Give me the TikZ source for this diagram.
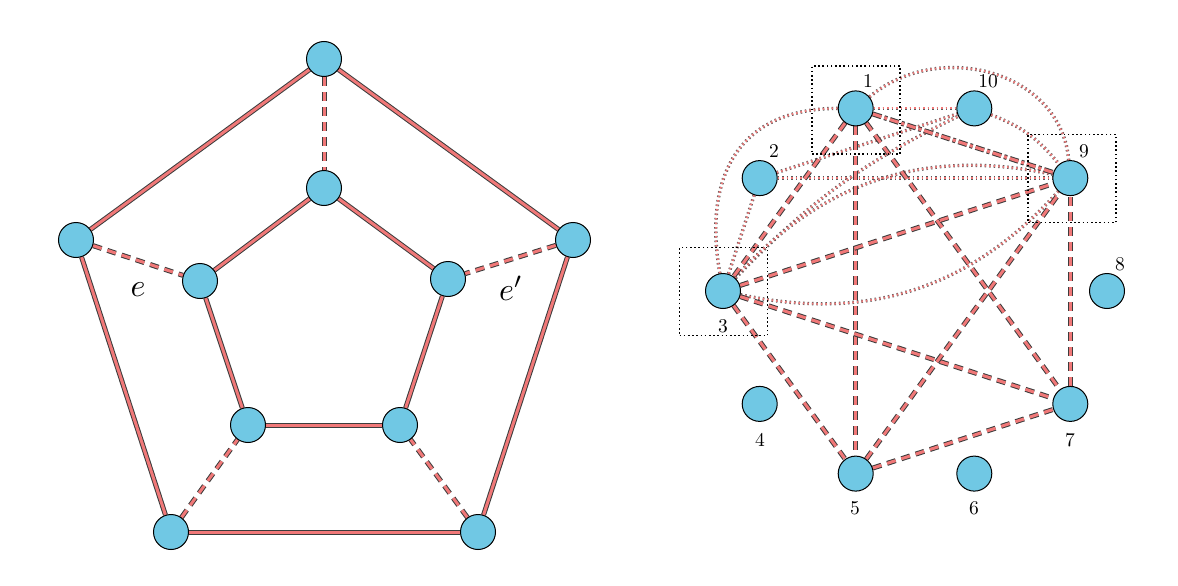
\documentclass[tikz,border=0pt]{standalone}
\usepackage{xcolor}
\definecolor{nodeblue}{RGB}{112,200,228}
\definecolor{edgered}{RGB}{240,120,120}
\definecolor{edgegray}{RGB}{60,60,60}
\pgfdeclarelayer{bg}
\pgfsetlayers{bg,main}
\begin{document}
\begin{tikzpicture}[x=1pt,y=1pt,
  vtx/.style={circle, draw=black, line width=1pt, fill=nodeblue, minimum size=35pt, inner sep=0pt},
  sol/.style={draw=edgegray, line width=1pt, double=edgered, double distance=3pt},
  dsh/.style={sol, dash pattern=on 9pt off 6pt},
  dshdot/.style={sol, dash pattern=on 9pt off 3pt on 3pt off 3pt},
  dts/.style={draw=edgegray!85, line width=0.7pt, double=edgered, double distance=2pt, dash pattern=on 1.5pt off 3pt},
  selbox/.style={draw=black, line width=1.6pt, dash pattern=on 1.6pt off 2.6pt, minimum size=88pt, inner sep=0pt},
  lbl/.style={inner sep=0pt, scale=1.95},
  elbl/.style={inner sep=0pt, scale=3.2}]
\path[use as bounding box] (0,0) rectangle (1178,-586);
% ---------------- left graph ----------------
\node[vtx] (A) at (324,-59) {};
\node[vtx] (B) at (76,-240) {};
\node[vtx] (C) at (573,-240) {};
\node[vtx] (D) at (171,-532) {};
\node[vtx] (E) at (478,-532) {};
\node[vtx] (a) at (324,-188) {};
\node[vtx] (b) at (200,-281) {};
\node[vtx] (c) at (448,-279) {};
\node[vtx] (d) at (248,-425) {};
\node[vtx] (f) at (400,-425) {};
\node[elbl] (le) at (138,-290) {$e$};
\node[elbl] (lep) at (511,-288) {$e'$};
\begin{pgfonlayer}{bg}
\draw[sol] (A) -- (B);
\draw[sol] (A) -- (C);
\draw[sol] (B) -- (D);
\draw[sol] (C) -- (E);
\draw[sol] (D) -- (E);
\draw[sol] (a) -- (b);
\draw[sol] (a) -- (c);
\draw[sol] (b) -- (d);
\draw[sol] (c) -- (f);
\draw[sol] (d) -- (f);
\draw[dsh] (A) -- (a);
\draw[dsh] (B) -- (b);
\draw[dsh] (C) -- (c);
\draw[dsh] (D) -- (d);
\draw[dsh] (E) -- (f);
\end{pgfonlayer}
% ---------------- right graph ----------------
\node[vtx] (n1) at (855.7,-108.4) {};
\node[vtx] (n2) at (759.7,-178.1) {};
\node[vtx] (n3) at (723,-291) {};
\node[vtx] (n4) at (759.7,-403.9) {};
\node[vtx] (n5) at (855.7,-473.6) {};
\node[vtx] (n6) at (974.3,-473.6) {};
\node[vtx] (n7) at (1070.3,-403.9) {};
\node[vtx] (n8) at (1107,-291) {};
\node[vtx] (n9) at (1070.3,-178.1) {};
\node[vtx] (n10) at (974.3,-108.4) {};
\node[lbl] (l1) at (868,-81) {1};
\node[lbl] (l2) at (774,-151) {2};
\node[lbl] (l3) at (723,-326) {3};
\node[lbl] (l4) at (760,-440) {4};
\node[lbl] (l5) at (855,-508) {5};
\node[lbl] (l6) at (974,-508) {6};
\node[lbl] (l7) at (1070,-440) {7};
\node[lbl] (l8) at (1120,-264) {8};
\node[lbl] (l9) at (1084,-151) {9};
\node[lbl] (l10) at (988,-81) {10};
\begin{pgfonlayer}{bg}
% dotted alternative edges
\draw[dts] (n1) -- (n10);
\draw[dts] (n2) -- (n9);
\draw[dts] (n2) -- (n3);
\draw[dts] (n2) -- (n10);
\draw[dts] (n3) to[bend left=10] (n10);
\draw[dts] (n10) to[bend left=15] (n9);
\draw[dts] (n3) to[out=100,in=180,looseness=1.25] (n1);
\draw[dts] (n1) to[out=40,in=95,looseness=1.1] (n9);
\draw[dts] (n3) to[bend left=30] (n9);
\draw[dts] (n3) to[bend right=30] (n9);
% K5 edges
\draw[dsh] (n1) -- (n3);
\draw[dsh] (n1) -- (n5);
\draw[dsh] (n1) -- (n7);
\draw[dshdot] (n1) -- (n9);
\draw[dsh] (n3) -- (n5);
\draw[dsh] (n3) -- (n7);
\draw[dsh] (n3) -- (n9);
\draw[dsh] (n5) -- (n7);
\draw[dsh] (n5) -- (n9);
\draw[dsh] (n7) -- (n9);
% selection boxes
\node[selbox] (b1) at (856,-110) {};
\node[selbox] (b9) at (1072,-178.5) {};
\node[selbox] (b3) at (723.5,-291.5) {};
\end{pgfonlayer}
\end{tikzpicture}
\end{document}
